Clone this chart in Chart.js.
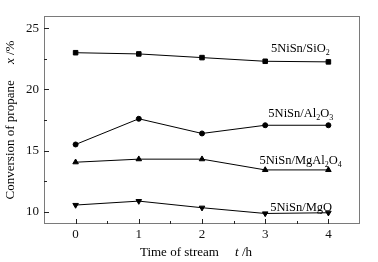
<!DOCTYPE html>
<html>
<head>
<meta charset="utf-8">
<script src="https://cdn.jsdelivr.net/npm/chart.js@4/dist/chart.umd.min.js"></script>
<style>
  html, body { margin: 0; padding: 0; background: #fff; }
  #wrap { width: 378px; height: 262px; }
</style>
</head>
<body>
<div id="wrap"><canvas id="conv"></canvas></div>
<script>
const hours = [0, 1, 2, 3, 4];
const siO2 = [23.0, 22.9, 22.6, 22.3, 22.25];
const al2O3 = [15.5, 17.6, 16.4, 17.07, 17.07];
const mgAl2O4 = [14.05, 14.3, 14.3, 13.42, 13.42];
const mgO = [10.55, 10.87, 10.33, 9.86, 9.92];
const xTicks = [0, 1, 2, 3, 4];
const yTicks = [10, 15, 20, 25];

const FONT = '"Liberation Serif", "Times New Roman", serif';
const FRAME = '#7a7a7a';

// series labels, anchored in data units (left edge, baseline)
const seriesLabels = [
  { parts: [['5NiSn/SiO', 0], ['2', 1]], x: 3.09, y: 23.07 },
  { parts: [['5NiSn/Al', 0], ['2', 1], ['O', 0], ['3', 1]], x: 3.05, y: 17.72 },
  { parts: [['5NiSn/MgAl', 0], ['2', 1], ['O', 0], ['4', 1]], x: 2.91, y: 13.91 },
  { parts: [['5NiSn/MgO', 0]], x: 3.08, y: 10.1 }
];

function pts(arr) { return arr.map((v, i) => ({ x: hours[i], y: v })); }

function ds(data, style, rot) {
  return {
    data: pts(data),
    borderColor: '#000',
    backgroundColor: '#000',
    borderWidth: 1,
    pointStyle: style,
    pointRotation: rot || 0,
    pointRadius: style === 'circle' ? 2.5 : 3.2,
    tension: 0
  };
}

const decor = {
  id: 'decor',
  afterDraw(chart) {
    const c = chart.ctx;
    const a = chart.chartArea;
    const xs = chart.scales.x, ys = chart.scales.y;
    c.save();
    c.strokeStyle = FRAME;
    c.lineWidth = 1;
    c.strokeRect(a.left + 0.5, a.top + 0.5, a.right - a.left - 1, a.bottom - a.top - 1);
    // inward ticks
    c.strokeStyle = '#222';
    c.beginPath();
    for (let v = 0; v <= 4.001; v += 0.5) {
      const px = Math.round(xs.getPixelForValue(v)) + 0.5;
      const len = Number.isInteger(v) ? 5 : 3;
      c.moveTo(px, a.bottom); c.lineTo(px, a.bottom - len);
    }
    for (let v = 10; v <= 25.001; v += 2.5) {
      const py = Math.round(ys.getPixelForValue(v)) + 0.5;
      const len = v % 5 === 0 ? 5 : 3;
      c.moveTo(a.left, py); c.lineTo(a.left + len, py);
    }
    c.stroke();

    // series labels
    c.fillStyle = '#000';
    c.textBaseline = 'alphabetic';
    seriesLabels.forEach(l => {
      let px = xs.getPixelForValue(l.x);
      const py = ys.getPixelForValue(l.y);
      l.parts.forEach(([t, sub]) => {
        c.font = (sub ? '8px ' : '12.5px ') + FONT;
        c.fillText(t, px, py + (sub ? 3 : 0));
        px += c.measureText(t).width;
      });
    });

    // axis titles
    c.textBaseline = 'middle';
    const drawMixed = (parts, cx, cy) => {
      let w = 0;
      parts.forEach(([t, it]) => { c.font = (it ? 'italic ' : '') + '13px ' + FONT; w += c.measureText(t).width; });
      let px = cx - w / 2;
      parts.forEach(([t, it]) => {
        c.font = (it ? 'italic ' : '') + '13px ' + FONT;
        c.fillText(t, px, cy);
        px += c.measureText(t).width;
      });
    };
    drawMixed([['Time of stream     ', 0], ['t', 1], [' /h', 0]], 196, 253);
    c.save();
    c.translate(11, 120);
    c.rotate(-Math.PI / 2);
    drawMixed([['Conversion of propane     ', 0], ['x', 1], [' /%', 0]], 0, 0);
    c.restore();
    c.restore();
  }
};

new Chart(document.getElementById('conv').getContext('2d'), {
  type: 'line',
  data: {
    datasets: [
      ds(siO2, 'rect'),
      ds(al2O3, 'circle'),
      ds(mgAl2O4, 'triangle'),
      ds(mgO, 'triangle', 180)
    ]
  },
  options: {
    responsive: true,
    maintainAspectRatio: false,
    animation: false,
    layout: { padding: { top: 16, right: 18, left: 0, bottom: 0 } },
    plugins: { legend: { display: false }, tooltip: { enabled: false } },
    scales: {
      x: {
        type: 'linear',
        min: -0.5,
        max: 4.5,
        afterBuildTicks: s => { s.ticks = xTicks.map(v => ({ value: v })); },
        afterFit: s => { s.height = 38; },
        grid: { display: false, drawTicks: false },
        border: { display: false },
        ticks: { color: '#111', padding: 3, font: { family: FONT, size: 13 } }
      },
      y: {
        min: 9,
        max: 26,
        afterBuildTicks: s => { s.ticks = yTicks.map(v => ({ value: v })); },
        afterFit: s => { s.width = 44; },
        grid: { display: false, drawTicks: false },
        border: { display: false },
        ticks: { color: '#111', padding: 5, font: { family: FONT, size: 13 } }
      }
    }
  },
  plugins: [decor]
});
</script>
</body>
</html>
